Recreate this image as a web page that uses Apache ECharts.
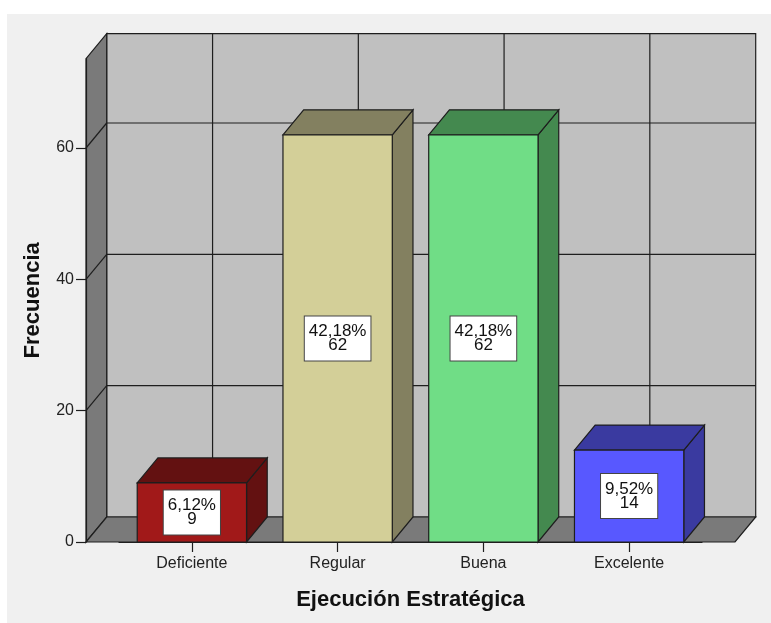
<!DOCTYPE html>
<html>
<head>
<meta charset="utf-8">
<title>Ejecución Estratégica</title>
<script src="https://cdn.jsdelivr.net/npm/echarts@6/dist/echarts.min.js"></script>
<style>
  html, body { margin: 0; padding: 0; background: #ffffff; }
  #chart { width: 771px; height: 623px; }
</style>
</head>
<body>
<div id="chart"></div>
<script>
// Frequency of each rating of strategic execution
const categories = ['Deficiente', 'Regular', 'Buena', 'Excelente'];
const counts = [9, 62, 62, 14];
const yTicks = [0, 20, 40, 60];
const yMax = 73.6;

// Face colours per bar: front, then top/side
const frontColors = ['#a11919', '#d3cf98', '#70dd86', '#5858ff'];
const shadeColors = ['#631111', '#838060', '#44894f', '#3a3aa0'];

const FONT = '"Liberation Sans", Arial, sans-serif';
const LINE = '#1e1e1e';
const DX = 20.7;   // depth offset to the right
const DY = 25;     // depth offset upward
const PAD = 33;    // extra floor beyond the outer bands

const total = counts.reduce((a, b) => a + b, 0);
const pctText = v => (v / total * 100).toFixed(2).replace('.', ',') + '%';

function renderFrame(params, api) {
  if (params.dataIndex !== 0) return null;
  const band = api.size([1, 0])[0];
  const yb = api.coord([0, 0])[1];
  const yt = api.coord([0, yMax])[1];
  const x0 = api.coord([0, 0])[0] - band / 2 - PAD;
  const x1 = api.coord([categories.length - 1, 0])[0] + band / 2 + PAD;
  const stroke = { stroke: LINE, lineWidth: 1.2 };
  const children = [];

  // back wall
  children.push({ type: 'polygon', shape: { points: [[x0 + DX, yt - DY], [x1 + DX, yt - DY], [x1 + DX, yb - DY], [x0 + DX, yb - DY]] },
    style: Object.assign({ fill: '#c0c0c0' }, stroke) });
  yTicks.forEach(v => {
    if (v === 0) return;
    const y = api.coord([0, v])[1] - DY;
    children.push({ type: 'line', shape: { x1: x0 + DX, y1: y, x2: x1 + DX, y2: y }, style: stroke });
  });
  categories.forEach((c, i) => {
    const x = api.coord([i, 0])[0] + DX;
    children.push({ type: 'line', shape: { x1: x, y1: yt - DY, x2: x, y2: yb - DY }, style: stroke });
  });

  // left wall
  children.push({ type: 'polygon', shape: { points: [[x0, yb], [x0 + DX, yb - DY], [x0 + DX, yt - DY], [x0, yt]] },
    style: Object.assign({ fill: '#7a7a7a' }, stroke) });
  yTicks.forEach(v => {
    if (v === 0) return;
    const y = api.coord([0, v])[1];
    children.push({ type: 'line', shape: { x1: x0, y1: y, x2: x0 + DX, y2: y - DY }, style: stroke });
  });

  // floor
  children.push({ type: 'polygon', shape: { points: [[x0, yb], [x1, yb], [x1 + DX, yb - DY], [x0 + DX, yb - DY]] },
    style: Object.assign({ fill: '#7a7a7a' }, stroke) });

  return { type: 'group', children: children };
}

function renderBar(params, api) {
  const i = api.value(0);
  const v = api.value(1);
  const band = api.size([1, 0])[0];
  const w = band * 0.75;
  const top = api.coord([i, v]);
  const yb = api.coord([i, 0])[1];
  const xl = top[0] - w / 2, xr = top[0] + w / 2, yt = top[1];
  const stroke = { stroke: LINE, lineWidth: 1.2 };
  const shade = shadeColors[params.dataIndex];
  return {
    type: 'group',
    children: [
      { type: 'polygon', shape: { points: [[xr, yt], [xr, yb], [xr + DX, yb - DY], [xr + DX, yt - DY]] },
        style: Object.assign({ fill: shade }, stroke) },
      { type: 'polygon', shape: { points: [[xl, yt], [xr, yt], [xr + DX, yt - DY], [xl + DX, yt - DY]] },
        style: Object.assign({ fill: shade }, stroke) },
      { type: 'rect', shape: { x: xl, y: yt, width: w, height: yb - yt },
        style: Object.assign({ fill: frontColors[params.dataIndex] }, stroke) },
      { type: 'text', x: top[0], y: (yt + yb) / 2,
        style: {
          text: pctText(v) + '\n' + v,
          fill: '#111', font: '17px ' + FONT, lineHeight: 14,
          align: 'center', verticalAlign: 'middle',
          backgroundColor: '#ffffff', borderColor: '#444', borderWidth: 1,
          padding: [8, 4, 8, 4]
        } }
    ]
  };
}

const chart = echarts.init(document.getElementById('chart'), null, { renderer: 'canvas' });
chart.setOption({
  animation: false,
  backgroundColor: '#ffffff',
  graphic: [{ type: 'rect', z: -100, shape: { x: 7, y: 14, width: 764, height: 609 }, style: { fill: '#f0f0f0' }, silent: true }],
  grid: { left: 119, right: 69, top: 58.7, bottom: 81 },
  xAxis: {
    type: 'category', data: categories, z: 10,
    name: 'Ejecución Estratégica', nameLocation: 'middle', nameGap: 47,
    nameTextStyle: { fontFamily: FONT, fontSize: 22, fontWeight: 'bold', color: '#111' },
    axisLine: { show: true, lineStyle: { color: LINE, width: 1.2 } },
    axisTick: { show: true, alignWithLabel: true, length: 10, lineStyle: { color: LINE, width: 1.2 } },
    axisLabel: { fontFamily: FONT, fontSize: 16, color: '#222', margin: 14 },
    splitLine: { show: false }
  },
  yAxis: {
    type: 'value', min: 0, max: yMax, interval: 20, offset: PAD, z: 10,
    name: 'Frecuencia', nameLocation: 'middle', nameGap: 42,
    nameTextStyle: { fontFamily: FONT, fontSize: 22, fontWeight: 'bold', color: '#111' },
    axisLine: { show: true, lineStyle: { color: LINE, width: 1.2 } },
    axisTick: { show: true, length: 10, customValues: yTicks, lineStyle: { color: LINE, width: 1.2 } },
    axisLabel: { fontFamily: FONT, fontSize: 16, color: '#222', margin: 12, customValues: yTicks },
    splitLine: { show: false }
  },
  series: [
    { type: 'custom', name: 'frame', clip: false, z: 1, silent: true,
      renderItem: renderFrame, data: categories.map((c, i) => [i, 0]) },
    { type: 'custom', name: 'Frecuencia', clip: false, z: 5,
      renderItem: renderBar, encode: { x: 0, y: 1 },
      data: counts.map((v, i) => [i, v]) }
  ]
});
</script>
</body>
</html>
